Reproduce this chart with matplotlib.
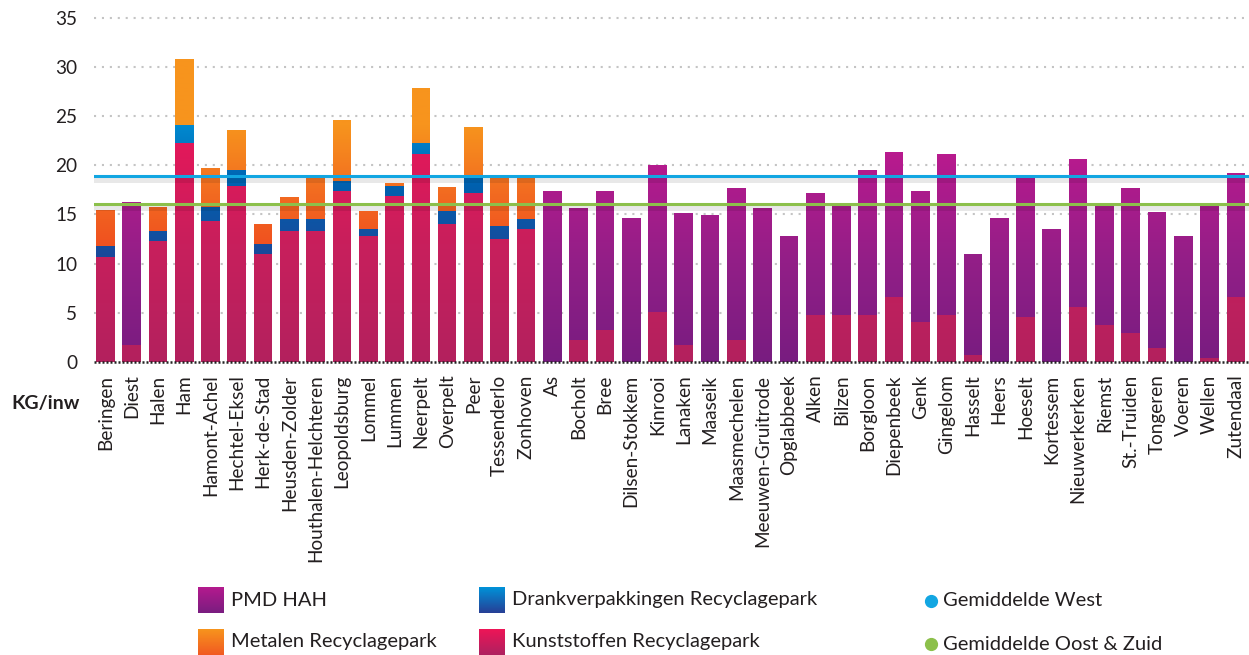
import numpy as np
import matplotlib
matplotlib.use("Agg")
import matplotlib.pyplot as plt
from matplotlib.path import Path
from matplotlib.patches import PathPatch
from matplotlib.lines import Line2D
from matplotlib.colors import to_rgb

plt.rcParams['font.family'] = ['Lato', 'DejaVu Sans']

# gemeenten (west first, then oost & zuid)
gemeenten = [
	"Beringen", "Diest", "Halen", "Ham", "Hamont-Achel", "Hechtel-Eksel", "Herk-de-Stad",
	"Heusden-Zolder", "Houthalen-Helchteren", "Leopoldsburg", "Lommel", "Lummen", "Neerpelt",
	"Overpelt", "Peer", "Tessenderlo", "Zonhoven", "As", "Bocholt", "Bree", "Dilsen-Stokkem",
	"Kinrooi", "Lanaken", "Maaseik", "Maasmechelen", "Meeuwen-Gruitrode", "Opglabbeek",
	"Alken", "Bilzen", "Borgloon", "Diepenbeek", "Genk", "Gingelom", "Hasselt", "Heers",
	"Hoeselt", "Kortessem", "Nieuwerkerken", "Riemst", "St.-Truiden", "Tongeren", "Voeren",
	"Wellen", "Zutendaal",
]

# kg per inwoner
kunststoffen = [10.7, 1.7, 12.3, 22.3, 14.3, 17.9, 11.0, 13.3, 13.3, 17.4, 12.8, 16.9, 21.1,
	14.0, 17.2, 12.5, 13.5, 0.0, 2.2, 3.3, 0.0, 5.1, 1.7, 0.0, 2.2, 0.0, 0.0,
	4.8, 4.8, 4.8, 6.6, 4.1, 4.8, 0.7, 0.0, 4.6, 0.0, 5.6, 3.8, 2.9, 1.4, 0.0, 0.4, 6.6]
pmd_hah = [0.0, 14.6, 0.0, 0.0, 0.0, 0.0, 0.0, 0.0, 0.0, 0.0, 0.0, 0.0, 0.0,
	0.0, 0.0, 0.0, 0.0, 17.4, 13.5, 14.1, 14.6, 14.9, 13.4, 14.9, 15.5, 15.7, 12.8,
	12.4, 11.1, 14.7, 14.7, 13.3, 16.3, 10.3, 14.6, 14.3, 13.5, 15.0, 12.1, 14.8, 13.8, 12.8, 15.5, 12.6]
drankverpakkingen = [1.1, 0.0, 1.0, 1.8, 1.5, 1.6, 1.0, 1.2, 1.2, 1.0, 0.7, 1.0, 1.2,
	1.3, 1.6, 1.3, 1.0] + [0.0] * 27
metalen = [3.6, 0.0, 2.5, 6.7, 3.9, 4.1, 2.0, 2.3, 4.2, 6.2, 1.8, 0.3, 5.5,
	2.5, 5.1, 4.9, 4.4] + [0.0] * 27

gemiddelde_west = 18.9
gemiddelde_oost_zuid = 16.05

# colour ramps along the y axis (value, colour)
ramp_kunst = [(0, '#B3215E'), (12, '#C81F5C'), (22, '#E2185A')]
ramp_pmd = [(0, '#781C80'), (10, '#921F87'), (21, '#B81A8E')]
ramp_drank = [(10, '#1D4698'), (18, '#0061AF'), (24, '#0089CF')]
ramp_metal = [(12, '#F0521F'), (17, '#F26A21'), (24, '#F7941D')]

YMAX = 35.7


def ramp_image(ramp, n=400):
	ys = np.linspace(0, YMAX, n)
	vals = [r[0] for r in ramp]
	cols = np.array([to_rgb(r[1]) for r in ramp])
	img = np.stack([np.interp(ys, vals, cols[:, k]) for k in range(3)], axis=-1)
	return img[:, None, :]


def gradient_bars(ax, x, heights, bottoms, width, ramp):
	bars = ax.bar(x, heights, width, bottom=bottoms, color='none', linewidth=0)
	paths = [b.get_path().transformed(b.get_patch_transform()) for b in bars if b.get_height() > 0]
	path = Path.make_compound_path(*paths)
	clip = PathPatch(path, transform=ax.transData, facecolor='none', edgecolor='none')
	ax.add_patch(clip)
	x0, x1 = ax.get_xlim()
	im = ax.imshow(ramp_image(ramp), extent=(x0, x1, 0, YMAX), origin='lower',
		aspect='auto', interpolation='bilinear', zorder=2)
	im.set_clip_path(clip)


def main():
	x = np.arange(len(gemeenten))
	k = np.array(kunststoffen)
	p = np.array(pmd_hah)
	d = np.array(drankverpakkingen)
	m = np.array(metalen)
	w = 0.71

	fig = plt.figure(figsize=(12.49, 6.55), dpi=100)
	ax = fig.add_axes([0.0753, 0.4473, 0.9247, 0.5363])
	ax.set_xlim(-0.43, len(gemeenten) - 0.5)
	ax.set_ylim(0, YMAX)

	# dotted grid
	for yv in range(5, 40, 5):
		ax.axhline(yv, color='#c4c4c4', lw=1.5, linestyle=(0, (1, 2.8)), zorder=1)

	gradient_bars(ax, x, k, 0, w, ramp_kunst)
	gradient_bars(ax, x, p, k, w, ramp_pmd)
	gradient_bars(ax, x, d, k + p, w, ramp_drank)
	gradient_bars(ax, x, m, k + p + d, w, ramp_metal)
	ax.set_xlim(-0.43, len(gemeenten) - 0.5)
	ax.set_ylim(0, YMAX)

	# average lines with a soft shadow
	for val, col in [(gemiddelde_west, '#12A6E2'), (gemiddelde_oost_zuid, '#8CC04B')]:
		ax.axhline(val - 0.36, color='black', alpha=0.09, lw=3.6, zorder=3)
		ax.axhline(val, color=col, lw=2.2, zorder=4)

	ax.axhline(0, color='#222222', lw=1.8, linestyle=(0, (0.8, 0.8)), zorder=5, clip_on=False)

	for s in ax.spines.values():
		s.set_visible(False)
	ax.set_yticks(range(0, 40, 5))
	ax.set_xticks(x)
	ax.set_xticklabels(gemeenten, rotation=90, fontsize=13.7, color='#231F20')
	ax.tick_params(axis='y', length=0, pad=12, labelsize=13.7, labelcolor='#231F20')
	ax.tick_params(axis='x', length=0, pad=9)

	fig.text(0.064, 1 - 404 / 655, "KG/inw", ha='right', va='center', fontsize=14,
		fontweight='bold', color='#231F20')

	# legend
	W, H = 1249, 655
	leg_patches = [
		(198, 587, '#B41A8E', '#7A1D80', "PMD HAH"),
		(198, 629, '#F7941D', '#F15A22', "Metalen Recyclagepark"),
		(479, 587, '#0092D8', '#273F96', "Drankverpakkingen Recyclagepark"),
		(479, 629, '#EE1557', '#AE2160', "Kunststoffen Recyclagepark"),
	]
	for px, py, top, bot, label in leg_patches:
		lax = fig.add_axes([px / W, 1 - (py + 26) / H, 26 / W, 26 / H])
		ramp = np.array([to_rgb(bot), to_rgb(top)])
		img = np.linspace(0, 1, 50)[:, None, None] * (ramp[1] - ramp[0]) + ramp[0]
		lax.imshow(img, origin='lower', aspect='auto', interpolation='bilinear')
		lax.axis('off')
		fig.text((px + 33) / W, 1 - (py + 13) / H, label, ha='left', va='center',
			fontsize=14.5, color='#231F20')

	for py, col, label in [(601, '#12A6E2', "Gemiddelde West"), (644, '#8CC04B', "Gemiddelde Oost & Zuid")]:
		fig.add_artist(Line2D([930.5 / W], [1 - py / H], marker='o', markersize=8.5,
			color=col, linestyle='none', transform=fig.transFigure))
		fig.text(943 / W, 1 - py / H, label, ha='left', va='center', fontsize=14.5, color='#231F20')

	fig.savefig("out.png", dpi=100)


if __name__ == "__main__":
	main()
